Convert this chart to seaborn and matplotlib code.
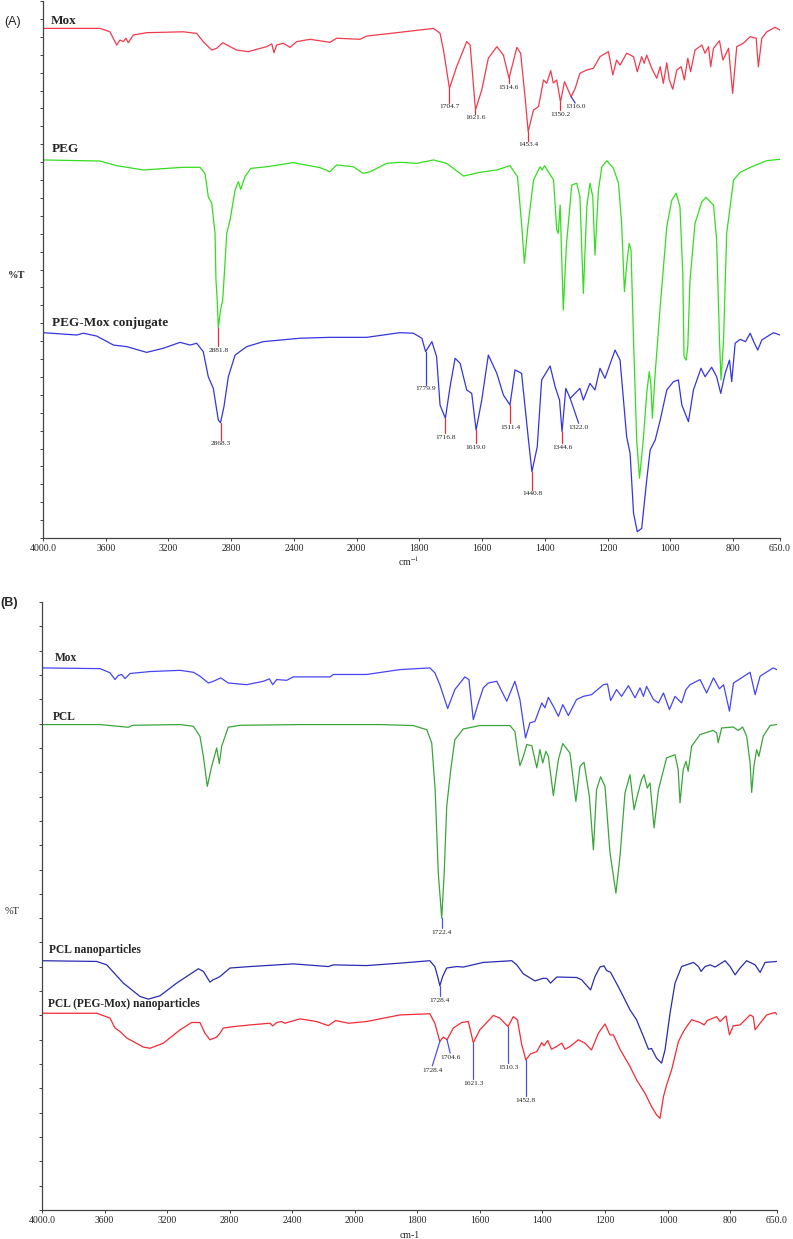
import numpy as np
import pandas as pd
import matplotlib
matplotlib.use("Agg")
import matplotlib.pyplot as plt
from matplotlib.ticker import FixedLocator
import seaborn as sns

# ---------------- panel A spectra (wavenumber cm-1, %T in arbitrary offset units) ----------------
mox_a_wn = [4000, 3636, 3573, 3530, 3509, 3488, 3471, 3456, 3424, 3339, 3105, 3020, 2978, 2924, 2892,
            2854, 2807, 2765, 2690, 2637, 2573, 2541, 2527, 2510, 2467, 2425, 2382, 2297, 2170, 2127,
            1989, 1968, 1862,
            1755, 1734, 1723, 1704, 1681, 1649, 1638, 1621, 1601, 1580, 1553, 1532, 1514, 1489, 1477,
            1463, 1453, 1436, 1420, 1404, 1394, 1381, 1373, 1362, 1350, 1337, 1316, 1303, 1288, 1266,
            1245, 1224, 1197, 1183, 1171, 1160, 1139, 1117, 1105, 1091, 1083, 1075, 1059, 1043, 1032,
            1022, 1011, 1003, 992, 979, 965, 955, 944, 935, 921, 899, 889, 878, 871, 862, 843, 832,
            814, 801, 788, 767, 745, 726, 719, 708, 692, 666, 650]
mox_a_t = [28.47, 28.47, 28.28, 27.54, 27.82, 27.73, 27.92, 27.67, 28.1, 28.23, 28.28, 28.19, 27.73,
           27.26, 27.36, 27.67, 27.45, 27.26, 27.17, 27.3, 27.45, 27.6, 27.11, 27.54, 27.64, 27.41,
           27.73, 27.86, 27.69, 27.92, 27.86, 28.04, 28.25,
           28.47, 28.2, 27.26, 25.12, 26.33, 27.73, 27.54, 23.91, 25.03, 26.8, 27.45, 26.98, 25.68,
           27.41, 27.08, 24.65, 22.7, 23.91, 24.1, 25.59, 25.4, 26.11, 25.42, 25.59, 24.37, 25.49,
           24.65, 25.12, 25.96, 26.15, 26.24, 26.89, 27.17, 25.87, 26.7, 26.42, 27.08, 26.89, 26.05,
           26.89, 26.52, 26.98, 26.24, 25.68, 26.33, 25.4, 26.55, 25.59, 25.07, 26.15, 26.33, 25.59,
           26.8, 26.05, 27.26, 27.54, 27.08, 27.45, 26.33, 27.36, 27.78, 26.7, 27.36, 24.84, 27.45,
           27.64, 28.01, 27.92, 26.33, 27.92, 28.28, 28.53, 28.38]

peg_wn = [4000, 3636, 3530, 3360, 3275, 3105, 2999, 2967, 2946, 2924, 2903, 2897, 2889, 2882, 2868,
          2854, 2846, 2828, 2807, 2775, 2754, 2739, 2712, 2675, 2573, 2404, 2233, 2170, 2127, 2021,
          1979, 1957, 1904, 1862, 1808, 1755, 1713, 1659, 1606, 1553, 1511, 1487, 1474, 1465, 1454,
          1436, 1415, 1408, 1401, 1372, 1362, 1357, 1351, 1341, 1331, 1314, 1298, 1288, 1277, 1266,
          1256, 1247, 1240, 1229, 1218, 1202, 1181, 1165, 1155, 1146, 1139, 1131, 1125, 1117, 1107,
          1098, 1086, 1075, 1067, 1062, 1057, 1048, 1032, 1011, 995, 981, 969, 960, 956, 949, 944,
          937, 921, 899, 886, 862, 852, 843, 838, 830, 820, 798, 777, 735, 692, 650]
peg_t = [21.12, 21.06, 20.8, 20.56, 20.61, 20.71, 20.71, 20.37, 19.07, 18.7, 17.04, 14.41, 13.3, 11.72,
         12.74, 13.3, 14.41, 17.02, 17.77, 19.44, 19.91, 19.48, 20.18, 20.65, 20.74, 20.97, 20.69,
         20.46, 20.84, 20.74, 20.37, 20.46, 20.93, 20.99, 20.93, 21.12, 20.93, 20.22, 20.43, 20.56,
         20.8, 20.18, 17.58, 15.35, 17.39, 20.0, 20.74, 20.56, 20.8, 20.0, 17.21, 17.02, 18.6, 12.74,
         16.37, 19.72, 19.82, 19.07, 13.67, 18.51, 19.82, 19.07, 15.81, 19.44, 20.74, 21.08, 20.65,
         19.82, 17.58, 13.76, 15.25, 16.46, 16.09, 11.06, 5.47, 3.34, 5.47, 8.08, 9.29, 8.66, 6.69,
         9.2, 12.92, 17.39, 18.88, 19.26, 18.51, 14.79, 10.13, 9.94, 10.69, 14.41, 17.58, 18.79,
         19.03, 18.6, 16.65, 11.06, 8.83, 11.06, 17.02, 20.0, 20.43, 20.78, 21.08, 21.16]

conj_wn = [4000, 3785, 3743, 3657, 3551, 3466, 3339, 3233, 3126, 3062, 3020, 2978, 2946, 2914, 2882,
           2868, 2846, 2818, 2775, 2701, 2595, 2361, 2170, 1968, 1862, 1819, 1792, 1780, 1760, 1745,
           1734, 1717, 1702, 1686, 1670, 1649, 1633, 1619, 1601, 1580, 1553, 1532, 1511, 1495, 1474,
           1452, 1441, 1424, 1410, 1383, 1367, 1353, 1345, 1333, 1319, 1288, 1277, 1256, 1240, 1224,
           1208, 1176, 1160, 1139, 1128, 1117, 1105, 1091, 1075, 1064, 1048, 1032, 1011, 990, 974,
           963, 942, 926, 902, 889, 868, 852, 839, 825, 811, 804, 793, 777, 760, 745, 734, 721, 708,
           671, 650]
conj_t = [11.47, 11.34, 11.44, 11.28, 10.78, 10.69, 10.37, 10.6, 10.93, 10.78, 10.88, 10.41, 9.01, 8.36,
          6.59, 6.44, 7.34, 9.01, 10.22, 10.69, 10.97, 11.16, 11.21, 11.21, 11.47, 11.44, 11.16,
          10.41, 10.97, 10.13, 7.43, 6.69, 8.45, 10.04, 9.76, 8.27, 8.08, 6.03, 7.71, 10.22, 9.2,
          7.99, 7.43, 9.39, 9.2, 5.47, 3.7, 5.1, 8.83, 9.61, 8.45, 7.71, 5.94, 8.36, 7.8, 8.36, 7.71,
          8.64, 8.27, 9.48, 8.92, 10.5, 9.94, 5.66, 4.73, 1.38, 0.35, 0.54, 3.24, 4.92, 5.47, 6.59,
          8.27, 8.73, 8.83, 7.43, 6.5, 8.27, 9.48, 9.01, 9.54, 9.01, 8.08, 9.2, 9.94, 8.73, 10.88,
          11.1, 10.97, 11.44, 10.97, 10.5, 11.06, 11.47, 11.34]

# ---------------- panel B spectra ----------------
mox_b_wn = [4000, 3629, 3565, 3533, 3512, 3490, 3469, 3437, 3309, 3117, 3032, 2990, 2936, 2904, 2857,
            2809, 2691, 2585, 2546, 2525, 2499, 2435, 2393, 2158, 2137, 1962, 1856, 1760, 1744, 1728,
            1703, 1680, 1648, 1635, 1621, 1605, 1589, 1573, 1546, 1514, 1488, 1472, 1454, 1440, 1424,
            1402, 1392, 1381, 1365, 1349, 1335, 1317, 1291, 1269, 1243, 1205, 1192, 1182, 1163, 1147,
            1125, 1104, 1088, 1077, 1067, 1045, 1029, 1013, 994, 976, 955, 941, 928, 896, 875, 853,
            834, 821, 802, 789, 736, 720, 704, 662, 651]
mox_b_t = [22.29, 22.26, 22.09, 21.81, 21.98, 22.02, 21.85, 22.06, 22.14, 22.19, 22.11, 21.95, 21.67,
           21.74, 21.88, 21.67, 21.6, 21.74, 21.84, 21.6, 21.81, 21.78, 21.92, 21.92, 22.02, 22.02,
           22.22, 22.29, 22.09, 21.6, 20.62, 21.4, 21.92, 21.81, 20.16, 20.85, 21.47, 21.67, 21.74,
           20.92, 21.74, 20.99, 19.41, 20.03, 20.09, 20.85, 20.65, 21.08, 20.71, 20.3, 20.78, 20.33,
           20.99, 21.12, 21.19, 21.6, 21.63, 20.95, 21.4, 21.12, 21.56, 21.06, 21.47, 21.12, 21.53,
           20.99, 20.85, 21.26, 20.58, 21.12, 20.85, 21.4, 21.6, 21.81, 21.26, 21.88, 21.43, 21.6,
           20.51, 21.67, 22.11, 21.19, 21.95, 22.29, 22.22]

pcl_wn = [4000, 3629, 3448, 3420, 3117, 3032, 2990, 2968, 2943, 2915, 2883, 2866, 2851, 2809, 2735,
          2352, 1919, 1813, 1770, 1754, 1743, 1733, 1722, 1714, 1706, 1693, 1680, 1653, 1600, 1536,
          1504, 1488, 1480, 1472, 1461, 1450, 1434, 1418, 1408, 1399, 1389, 1381, 1365, 1349, 1335,
          1312, 1293, 1280, 1267, 1250, 1237, 1227, 1214, 1200, 1184, 1165, 1152, 1136, 1120, 1107,
          1097, 1083, 1075, 1065, 1056, 1043, 1029, 1003, 976, 966, 960, 950, 941, 934, 923, 896, 854,
          843, 838, 827, 790, 774, 760, 747, 736, 731, 724, 715, 708, 694, 672, 651]
pcl_t = [19.96, 19.96, 19.85, 19.93, 19.96, 19.89, 19.48, 18.65, 17.42, 18.24, 19.0, 18.35, 19.07, 19.85,
         19.93, 19.96, 19.96, 19.92, 19.75, 19.21, 17.28, 13.86, 12.0, 13.86, 16.6, 18.11, 19.34,
         19.78, 19.92, 19.92, 19.92, 19.68, 18.93, 18.27, 18.65, 19.14, 19.09, 18.18, 18.93, 18.38,
         18.86, 18.65, 17.04, 18.52, 19.18, 18.79, 16.8, 18.24, 18.41, 17.01, 14.81, 17.28, 17.81,
         17.42, 14.69, 13.03, 14.54, 17.15, 17.9, 16.46, 17.01, 17.7, 17.9, 17.35, 17.56, 15.71,
         17.28, 18.59, 18.72, 18.11, 16.74, 18.11, 18.45, 18.04, 19.07, 19.55, 19.72, 19.62, 19.21,
         19.82, 19.86, 19.72, 19.86, 19.48, 18.38, 17.17, 18.24, 18.93, 18.65, 19.48, 19.92, 19.96]

nano_wn = [4000, 3650, 3586, 3480, 3373, 3320, 3245, 3139, 3000, 2968, 2926, 2905, 2883, 2862, 2798,
           2670, 2393, 2169, 2137, 1962, 1856, 1760, 1744, 1735, 1728, 1719, 1706, 1674, 1653, 1589,
           1498, 1482, 1461, 1424, 1397, 1386, 1374, 1354, 1291, 1275, 1246, 1232, 1216, 1203, 1195,
           1182, 1152, 1120, 1099, 1077, 1061, 1051, 1035, 1019, 1008, 992, 976, 955, 917, 901, 893,
           880, 864, 848, 816, 800, 784, 768, 747, 720, 704, 688, 651]
nano_t = [10.25, 10.22, 10.08, 9.33, 8.78, 8.67, 8.81, 9.33, 9.92, 9.81, 9.37, 9.47, 9.53, 9.6, 9.95,
          10.01, 10.12, 10.01, 10.08, 10.05, 10.15, 10.25, 10.01, 9.6, 9.22, 9.6, 9.95, 10.01, 9.99,
          10.18, 10.25, 10.08, 9.71, 9.42, 9.53, 9.52, 9.33, 9.58, 9.56, 9.47, 9.05, 9.6, 9.99, 10.04,
          9.85, 9.77, 9.05, 8.23, 7.82, 7.13, 6.61, 6.64, 6.24, 6.04, 6.58, 8.09, 9.33, 10.01, 10.18,
          10.01, 9.81, 10.01, 10.08, 9.99, 10.25, 10.01, 9.67, 9.95, 10.25, 10.08, 9.77, 10.18, 10.22]

pegmox_np_wn = [4000, 3650, 3565, 3533, 3501, 3458, 3352, 3309, 3224, 3117, 3043, 2990, 2958, 2926,
                2883, 2862, 2841, 2777, 2670, 2542, 2525, 2499, 2468, 2447, 2350, 2244, 2169, 2123,
                2038, 1962, 1856, 1760, 1744, 1728, 1717, 1705, 1685, 1658, 1637, 1621, 1600, 1557,
                1536, 1510, 1493, 1480, 1466, 1453, 1438, 1418, 1402, 1395, 1383, 1371, 1355, 1338,
                1328, 1312, 1285, 1264, 1243, 1221, 1200, 1184, 1173, 1152, 1120, 1099, 1072, 1051,
                1035, 1024, 1013, 1003, 987, 965, 949, 939, 923, 896, 883, 873, 843, 832, 813, 802,
                790, 768, 736, 726, 720, 704, 683, 656, 648]
pegmox_np_t = [8.09, 8.09, 7.89, 7.48, 7.34, 7.07, 6.7, 6.65, 6.86, 7.41, 7.71, 7.71, 7.27, 7.0, 7.11,
               7.27, 7.48, 7.54, 7.61, 7.68, 7.57, 7.71, 7.75, 7.68, 7.86, 7.75, 7.58, 7.79, 7.68,
               7.75, 8.02, 8.07, 7.68, 6.93, 7.11, 7.0, 7.48, 7.71, 7.75, 6.88, 7.41, 8.0, 7.89, 7.54,
               7.95, 7.82, 6.79, 6.17, 6.42, 6.51, 6.88, 6.75, 6.97, 6.61, 6.72, 6.86, 6.61, 6.72, 7.0,
               6.86, 6.58, 7.27, 7.65, 7.2, 7.2, 6.61, 5.9, 5.35, 4.8, 4.25, 3.91, 3.77, 4.66, 5.14,
               5.76, 6.93, 7.34, 7.54, 7.82, 7.71, 7.61, 7.79, 7.95, 7.75, 7.98, 7.2, 7.57, 7.61, 8.02,
               7.95, 7.41, 7.68, 8.02, 8.12, 8.02]

# peak labels: text, peak (wn, T), end of marker line (wn, T), marker colour
peaks_a = [("1704.7", 1704, 25.12, 1704, 24.3, "#f0283c"),
           ("1621.6", 1621, 23.91, 1621, 23.7, "#f0283c"),
           ("1514.6", 1514, 25.68, 1514, 25.4, "#f0283c"),
           ("1453.4", 1453, 22.7, 1453, 22.2, "#f0283c"),
           ("1350.2", 1350, 24.37, 1350, 23.9, "#f0283c"),
           ("1316.0", 1316, 24.65, 1303, 24.3, "#3a3ae0"),
           ("2881.8", 2882, 11.72, 2882, 10.7, "#f0283c"),
           ("2868.3", 2868, 6.44, 2868, 5.5, "#f0283c"),
           ("1779.9", 1780, 10.41, 1780, 8.55, "#3a3ae0"),
           ("1716.8", 1717, 6.69, 1717, 5.85, "#f0283c"),
           ("1619.0", 1619, 6.03, 1619, 5.3, "#f0283c"),
           ("1511.4", 1511, 7.43, 1511, 6.4, "#f0283c"),
           ("1440.8", 1441, 3.7, 1441, 2.68, "#f0283c"),
           ("1344.6", 1345, 5.94, 1345, 5.3, "#f0283c"),
           ("1322.0", 1319, 7.8, 1292, 6.41, "#3a3ae0")]
peaks_b = [("1722.4", 1722, 12.0, 1722, 11.6, "#5050f0"),
           ("1728.4", 1728, 9.22, 1728, 8.78, "#5050f0"),
           ("1728.4", 1728, 6.93, 1752, 5.93, "#5050f0"),
           ("1704.6", 1705, 7.0, 1695, 6.45, "#5050f0"),
           ("1621.3", 1621, 6.88, 1621, 5.38, "#5050f0"),
           ("1510.3", 1510, 7.54, 1510, 6.04, "#5050f0"),
           ("1452.8", 1453, 6.17, 1453, 4.67, "#5050f0")]

xticks = [4000, 3600, 3200, 2800, 2400, 2000, 1800, 1600, 1400, 1200, 1000, 800, 650]
xticklabels = ["4000.0", "3600", "3200", "2800", "2400", "2000", "1800", "1600", "1400",
               "1200", "1000", "800", "650.0"]


def fwd(x):
    x = np.asarray(x, dtype=float)
    return np.where(x > 2000, 2000 + (x - 2000) / 2, x)


def inv(u):
    u = np.asarray(u, dtype=float)
    return np.where(u > 2000, 2000 + (u - 2000) * 2, u)


sns.set_style("white")
plt.rcParams["font.family"] = ["Liberation Serif", "DejaVu Serif"]
plt.rcParams["mathtext.fontset"] = "stix"

fig = plt.figure(figsize=(7.93, 12.39), dpi=100)
ax_a = fig.add_axes([43 / 793, 1 - 538 / 1239, 737 / 793, 537 / 1239])
ax_b = fig.add_axes([42 / 793, 1 - 1210 / 1239, 735 / 793, 608 / 1239])


def draw_panel(ax, spectra, palette, ymax, names, name_size, peaks):
    df = pd.concat([pd.DataFrame({"wn": wn, "T": t, "sample": name})
                    for name, (wn, t) in spectra.items()], ignore_index=True)
    sns.lineplot(data=df, x="wn", y="T", hue="sample", palette=palette, estimator=None,
                 sort=False, legend=False, linewidth=0.9, ax=ax)
    ax.set_xscale("function", functions=(fwd, inv))
    ax.set_xlim(4000, 650)
    ax.set_ylim(0, ymax)
    ax.xaxis.set_major_locator(FixedLocator(xticks))
    ax.set_xticklabels(xticklabels, fontsize=7)
    ax.xaxis.set_minor_locator(FixedLocator([]))
    ax.set_yticks(range(0, ymax + 1))
    ax.set_yticklabels([])
    ax.set_xlabel("")
    ax.set_ylabel("")
    ax.tick_params(axis="both", direction="out", length=2.2, width=0.7, color="#444444", pad=2,
                   left=True, bottom=True)
    for side in ["top", "right"]:
        ax.spines[side].set_visible(False)
    for side in ["left", "bottom"]:
        ax.spines[side].set_color("#444444")
        ax.spines[side].set_linewidth(0.9)
    for text, x, y in names:
        ax.text(x, y, text, fontsize=name_size, fontweight="bold", ha="left", va="baseline")
    for text, x0, y0, x1, y1, col in peaks:
        ax.plot([x0, x1], [y0, y1], color=col, lw=0.9)
        ax.text(x1, y1 - 0.08, text, fontsize=5.3, ha="center", va="top", color="#222222")


spectra_a = {"Mox": (mox_a_wn, mox_a_t), "PEG": (peg_wn, peg_t),
             "PEG-Mox conjugate": (conj_wn, conj_t)}
palette_a = {"Mox": "#f23a4c", "PEG": "#33dd1f", "PEG-Mox conjugate": "#3535e0"}
names_a = [("Mox", 3949, 28.69), ("PEG", 3943, 21.54), ("PEG-Mox conjugate", 3943, 11.84)]
draw_panel(ax_a, spectra_a, palette_a, 30, names_a, 9.5, peaks_a)

spectra_b = {"Mox": (mox_b_wn, mox_b_t), "PCL": (pcl_wn, pcl_t),
             "PCL nanoparticles": (nano_wn, nano_t),
             "PCL (PEG-Mox) nanoparticles": (pegmox_np_wn, pegmox_np_t)}
palette_b = {"Mox": "#4545f5", "PCL": "#3aa63a", "PCL nanoparticles": "#2b2bb0",
             "PCL (PEG-Mox) nanoparticles": "#f52a35"}
names_b = [("Mox", 3917, 22.57), ("PCL", 3930, 20.14), ("PCL nanoparticles", 3955, 10.56),
           ("PCL (PEG-Mox) nanoparticles", 3962, 8.35)]
draw_panel(ax_b, spectra_b, palette_b, 25, names_b, 8.3, peaks_b)

# panel letters and axis titles
fig.text(4 / 793, 1 - 22 / 1239, "(A)", fontsize=9, family=["Liberation Sans", "DejaVu Sans"],
         va="center", ha="left")
fig.text(0 / 793, 1 - 603 / 1239, "(B)", fontsize=9, fontweight="bold",
         family=["Liberation Sans", "DejaVu Sans"], va="center", ha="left")
fig.text(8 / 793, 1 - 275 / 1239, "%T", fontsize=7.5, fontweight="bold", va="center", ha="left")
fig.text(5 / 793, 1 - 912 / 1239, "%T", fontsize=7.5, va="center", ha="left")
fig.text(398 / 793, 1 - 561 / 1239, "cm$^{-1}$", fontsize=7, va="center", ha="left")
fig.text(400 / 793, 1 - 1235 / 1239, "cm-1", fontsize=7, va="center", ha="left")

fig.savefig("out.png", dpi=100)
